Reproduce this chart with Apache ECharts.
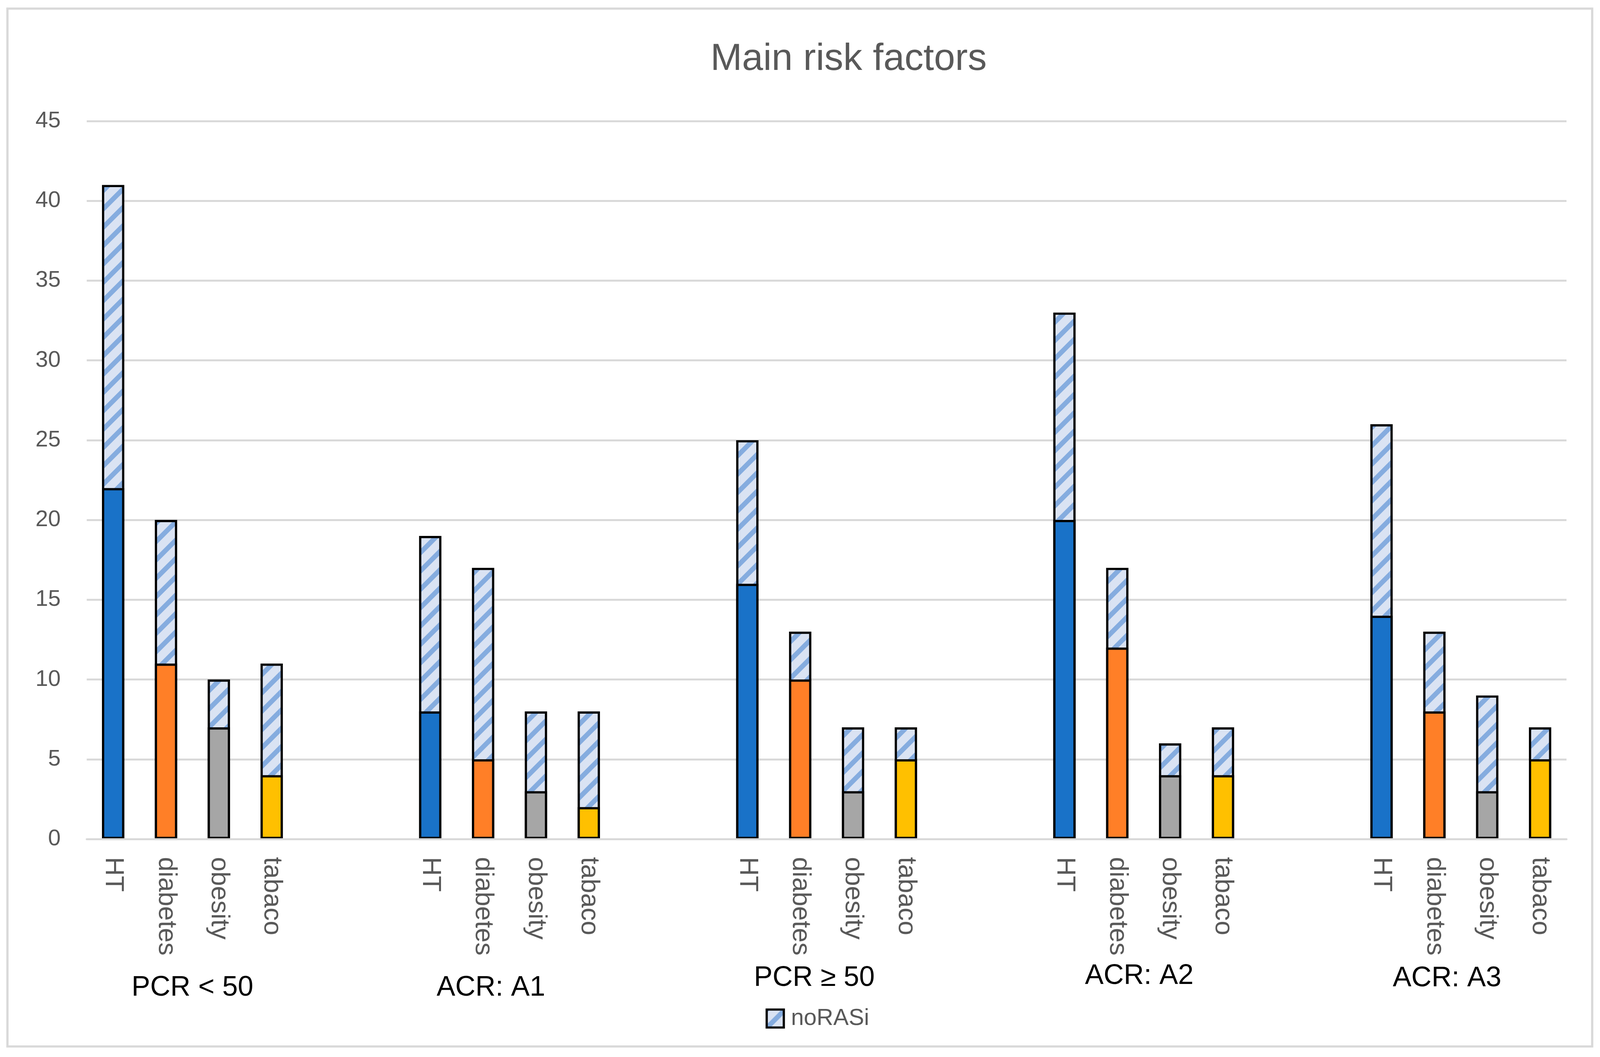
<!DOCTYPE html>
<html>
<head>
<meta charset="utf-8">
<script src="https://cdn.jsdelivr.net/npm/echarts@6/dist/echarts.min.js"></script>
<style>
html,body{margin:0;padding:0;background:#fff;overflow:hidden;}
#chart{width:100vw;height:100vh;}
</style>
</head>
<body>
<div id="chart"></div>
<script>
// ---- data ----
const groups = ['PCR < 50', 'ACR: A1', 'PCR \u2265 50', 'ACR: A2', 'ACR: A3'];
const factors = ['HT', 'diabetes', 'obesity', 'tabaco'];
// solid (bottom) segment per group, order HT, diabetes, obesity, tabaco
const rasi = [
  [22, 11, 7, 4],
  [8, 5, 3, 2],
  [16, 10, 3, 5],
  [20, 12, 4, 4],
  [14, 8, 3, 5]
];
// hatched (top) segment "noRASi"
const noRasi = [
  [19, 9, 3, 7],
  [11, 12, 5, 6],
  [9, 3, 4, 2],
  [13, 5, 2, 3],
  [12, 5, 6, 2]
];
const yTicks = [0, 5, 10, 15, 20, 25, 30, 35, 40, 45];

// ---- layout (designed for 4299 x 2706, scaled to the viewport) ----
const REF_W = 4299, REF_H = 2706;
const el = document.getElementById('chart');
const W = el.clientWidth || window.innerWidth;
const H = el.clientHeight || window.innerHeight;
const sx = W / REF_W, sy = H / REF_H;
const X = v => v * sx, Y = v => v * sy, F = v => v * Math.min(sx, sy);

const factorColors = ['#1972C8', '#FF7F27', '#A6A6A6', '#FFC000'];
const GAP = 2; // empty category slots between groups

// build category axis (with blank slots between groups)
const categories = [];
const rasiData = [];
const stackTopData = []; // hatched noRASi segment drawn on top of the solid RASi part
groups.forEach((g, gi) => {
  factors.forEach((f, fi) => {
    categories.push(f);
    rasiData.push({ value: rasi[gi][fi], itemStyle: { color: factorColors[fi] } });
    stackTopData.push(rasi[gi][fi] + noRasi[gi][fi]);
  });
  if (gi < groups.length - 1) {
    for (let k = 0; k < GAP; k++) {
      categories.push('');
      rasiData.push('-');
      stackTopData.push('-');
    }
  }
});
const catIds = categories.map((c, i) => 'c' + i);

// hatch pattern
function makeHatch() {
  const P = Math.round(X(49));
  const cv = document.createElement('canvas');
  cv.width = P; cv.height = P;
  const ctx = cv.getContext('2d');
  ctx.fillStyle = '#DAE3F3';
  ctx.fillRect(0, 0, P, P);
  ctx.strokeStyle = '#85ACDF';
  ctx.lineWidth = X(13);
  ctx.lineCap = 'square';
  for (let k = -1; k <= 1; k++) {
    ctx.beginPath();
    ctx.moveTo(k * P - 10, P + 10);
    ctx.lineTo(k * P + P + 10, -10);
    ctx.stroke();
  }
  return cv;
}
const hatch = { image: makeHatch(), repeat: 'repeat' };

const FONT = '"Liberation Sans", Arial, sans-serif';
const chart = echarts.init(el, null, { renderer: 'canvas', width: W, height: H });

const groupLabelPos = [
  [517, 2529], [1319, 2529], [2188, 2504], [3061, 2499], [3888, 2505]
];
const BW = X(6);

chart.setOption({
  animation: false,
  backgroundColor: '#fff',
  title: {
    text: 'Main risk factors',
    left: X(2280),
    top: Y(104),
    padding: 0,
    textAlign: 'center',
    textStyle: { fontFamily: FONT, fontSize: F(102), fontWeight: 'normal', color: '#595959', lineHeight: F(102) }
  },
  legend: {
    data: ['noRASi'],
    left: X(2057),
    top: Y(2578),
    padding: 0,
    itemWidth: X(46),
    itemHeight: Y(46),
    icon: 'rect',
    itemStyle: { borderColor: '#000', borderWidth: BW },
    textStyle: { fontFamily: FONT, fontSize: F(62), color: '#595959', padding: [0, 0, 0, X(14)] },
    selectedMode: false
  },
  grid: { left: X(233), right: X(90), top: Y(310), bottom: Y(558), containLabel: false },
  xAxis: {
    type: 'category',
    data: catIds,
    z: 3,
    axisLine: { show: true, lineStyle: { color: '#D9D9D9', width: Y(5) } },
    axisTick: { show: false },
    axisLabel: {
      interval: 0,
      rotate: -90,
      margin: Y(46),
      fontFamily: FONT,
      fontSize: F(70),
      color: '#595959',
      formatter: (v, i) => categories[i]
    },
    splitLine: { show: false }
  },
  yAxis: {
    type: 'value',
    min: yTicks[0],
    max: yTicks[yTicks.length - 1],
    interval: yTicks[1] - yTicks[0],
    axisLine: { show: false },
    axisTick: { show: false },
    axisLabel: { margin: X(70), fontFamily: FONT, fontSize: F(61), color: '#595959' },
    splitLine: { lineStyle: { color: '#D9D9D9', width: Y(5) } }
  },
  series: [
    {
      name: 'noRASi',
      type: 'bar',
      barWidth: X(60),
      barGap: '-100%',
      data: stackTopData,
      itemStyle: { color: hatch, borderColor: '#000', borderWidth: BW },
      emphasis: { disabled: true }
    },
    {
      name: 'RASi',
      type: 'bar',
      barWidth: X(60),
      barGap: '-100%',
      data: rasiData,
      itemStyle: { borderColor: '#000', borderWidth: BW },
      emphasis: { disabled: true }
    }
  ],
  graphic: [
    {
      type: 'rect',
      shape: { x: X(20), y: Y(22), width: X(4258), height: Y(2657) },
      style: { fill: null, stroke: '#D9D9D9', lineWidth: X(6) },
      silent: true, z: -10
    }
  ].concat(groups.map((g, i) => ({
    type: 'text',
    x: X(groupLabelPos[i][0]),
    y: Y(groupLabelPos[i][1]),
    style: {
      text: g, fontFamily: FONT, fontSize: F(75), fill: '#000',
      align: 'center', verticalAlign: 'middle'
    },
    silent: true
  })))
});
</script>
</body>
</html>
